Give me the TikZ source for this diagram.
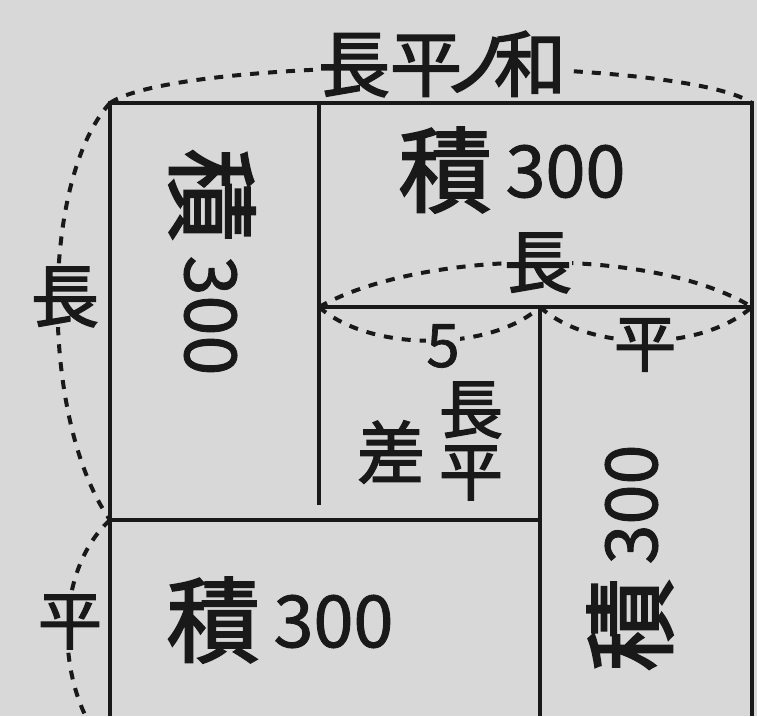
\documentclass[tikz,border=0pt]{standalone}
\usepackage{fontspec}
\setmainfont{Noto Sans CJK JP}[FakeBold=2.2]
\newfontfamily\digfont{Noto Sans CJK JP}[FakeBold=1.2]
\definecolor{bg}{RGB}{216,216,216}
\definecolor{ink}{RGB}{25,25,25}
\newcommand\sekitext{{\fontsize{93}{93}\selectfont 積}\kern14pt\raisebox{8pt}{\digfont\fontsize{72}{72}\selectfont 300}}
\begin{document}
\begin{tikzpicture}[x=1pt,y=-1pt,
  box/.style={line width=4.5pt, draw=ink},
  dsh/.style={line width=4pt, draw=ink, dash pattern=on 9pt off 9pt},
  lbl/.style={inner sep=0pt, fill=bg, text=ink},
  txt/.style={inner sep=0pt, text=ink},
]
\fill[bg] (0,0) rectangle (757,716);
\useasboundingbox (0,0) rectangle (757,716);
\clip (0,0) rectangle (757,716);
% corners
\coordinate (A) at (110,103);
\coordinate (B) at (752,103);
\coordinate (C) at (319,103);
\coordinate (L) at (319,505);
\coordinate (D) at (319,307);
\coordinate (E) at (752,307);
\coordinate (F) at (540,307);
\coordinate (G) at (540,716);
\coordinate (H) at (110,520);
\coordinate (I) at (540,520);
\coordinate (J) at (110,716);
\coordinate (K) at (752,716);
\coordinate (Jx) at (100,740);
% rectangles
\draw[box] (J) -- (A) -- (B) -- (K);
\draw[box] (C) -- (L);
\draw[box] (D) -- (E);
\draw[box] (F) -- (G);
\draw[box] (H) -- (I);
% dashed arcs
\draw[dsh] (A) .. controls (180,55) and (680,55) .. (B);
\draw[dsh] (A) .. controls (40,180) and (40,420) .. (H);
\draw[dsh] (H) .. controls (55,570) and (55,680) .. (Jx);
\draw[dsh] (D) .. controls (420,250) and (650,245) .. (E);
\draw[dsh] (D) .. controls (370,352) and (490,352) .. (F);
\draw[dsh] (F) .. controls (590,352) and (700,352) .. (E);
% labels on arcs
\node[lbl] (sum) at (442,64) {\fontsize{72}{72}\selectfont 長平\kern-20pt ノ\kern-20pt 和};
\node[lbl] (len) at (65,297) {\fontsize{68}{68}\selectfont 長};
\node[lbl] (wid) at (70,622) {\fontsize{64}{64}\selectfont 平};
\node[lbl] (ilen) at (538,263) {\fontsize{68}{68}\selectfont 長};
\node[lbl] (iwid) at (645,345) {\fontsize{62}{62}\selectfont 平};
\node[lbl] (five) at (443,346) {\digfont\fontsize{60}{60}\selectfont 5};
% areas
\node[txt, rotate=-90] (s1) at (212,262) {\sekitext};
\node[txt] (s2) at (512,170) {\sekitext};
\node[txt] (s3) at (280,620) {\sekitext};
\node[txt, rotate=90] (s4) at (630,558) {\sekitext};
% difference square
\node[txt] (dl) at (471,410) {\fontsize{64}{64}\selectfont 長};
\node[txt] (dw) at (471,473) {\fontsize{64}{64}\selectfont 平};
\node[txt] (dd) at (391,452) {\fontsize{68}{68}\selectfont 差};
\end{tikzpicture}
\end{document}
